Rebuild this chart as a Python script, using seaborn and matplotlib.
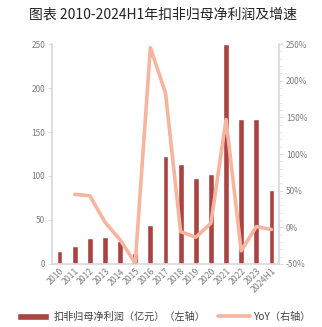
import matplotlib
matplotlib.use("Agg")
import matplotlib.pyplot as plt
import seaborn as sns
import numpy as np
import pandas as pd
from matplotlib.ticker import FuncFormatter, MultipleLocator

years = ["2010", "2011", "2012", "2013", "2014", "2015", "2016", "2017",
         "2018", "2019", "2020", "2021", "2022", "2023", "2024H1"]
profit = [14.4, 20.5, 29.2, 31.0, 25.8, 12.9, 44.0, 122.7, 113.6, 98.0,
          101.9, 250.0, 165.0, 165.0, 84.0]
yoy = [np.nan, 45, 43, 7, -17, -49, 245, 183, -6, -13.5, 5.5, 147, -32, 1, -3]

bar_label = "扣非归母净利润（亿元）（左轴）"
line_label = "YoY（右轴）"
title = "图表 2010-2024H1年扣非归母净利润及增速"

sns.set_theme(style="white")
plt.rcParams['font.family'] = ['Noto Sans CJK SC', 'DejaVu Sans']

df = pd.DataFrame({"year": years, "profit": profit, "yoy": yoy})

fig = plt.figure(figsize=(3.22, 3.27), dpi=100)
ax = fig.add_axes([0.1615, 0.1927, 0.705, 0.6727])
bar_color = "#A94442"
line_color = "#F5B59E"
sns.barplot(data=df, x="year", y="profit", color=bar_color, width=0.38,
            ax=ax, label=bar_label, saturation=1)
if ax.get_legend() is not None:
    ax.get_legend().remove()
ax2 = ax.twinx()
x = np.arange(len(years))
sns.lineplot(x=x, y=df["yoy"], ax=ax2, color=line_color, linewidth=2.6,
             label=line_label, legend=False)
if ax2.get_legend() is not None:
    ax2.get_legend().remove()

ax.set_xlim(-0.5, len(years) - 0.5)
ax.set_ylim(0, 250)
ax2.set_ylim(-50, 250)
ax.yaxis.set_major_locator(MultipleLocator(50))
ax2.yaxis.set_major_locator(MultipleLocator(50))
ax2.yaxis.set_minor_locator(MultipleLocator(10))
ax2.yaxis.set_major_formatter(FuncFormatter(lambda v, p: f"{int(v)}%"))

grey = "#7F7F7F"
spine_c = "#D9D9D9"
for a in (ax, ax2):
    for s in a.spines.values():
        s.set_visible(False)
ax.spines['left'].set_visible(True)
ax.spines['left'].set_color(spine_c)
ax.spines['bottom'].set_visible(True)
ax.spines['bottom'].set_color(spine_c)
ax2.spines['right'].set_visible(True)
ax2.spines['right'].set_color(spine_c)

ax.set_xlabel("")
ax.set_ylabel("")
ax2.set_ylabel("")
ax.tick_params(axis='y', labelsize=6, colors=grey, length=3, width=0.6,
               left=True, pad=2)
ax.tick_params(axis='y', color=spine_c)
ax.tick_params(axis='x', labelsize=6.3, colors=grey, length=0, pad=2)
ax.set_xticks(x)
ax.set_xticklabels(years, rotation=45, ha='right', rotation_mode='anchor')
ax2.tick_params(axis='y', which='major', labelsize=6, colors=grey, length=3,
                width=0.6, right=True, pad=2)
ax2.tick_params(axis='y', which='minor', length=2, width=0.5, right=True,
                color=spine_c)
ax2.tick_params(axis='y', which='major', color=spine_c)
for lbl in ax.get_yticklabels() + ax2.get_yticklabels() + ax.get_xticklabels():
    lbl.set_color(grey)
ax.grid(False)
ax2.grid(False)

fig.text(0.505, 0.955, title, ha='center', va='center', fontsize=10,
         color="#222222")

h1, l1 = ax.get_legend_handles_labels()
h2, l2 = ax2.get_legend_handles_labels()
leg = fig.legend(h1 + h2, l1 + l2, loc='center', bbox_to_anchor=(0.51, 0.032),
                 ncol=2, frameon=False, fontsize=7.3, handlelength=3.2,
                 columnspacing=1.2, handletextpad=0.4)
for t in leg.get_texts():
    t.set_color("#404040")

fig.savefig("out.png", dpi=100)
